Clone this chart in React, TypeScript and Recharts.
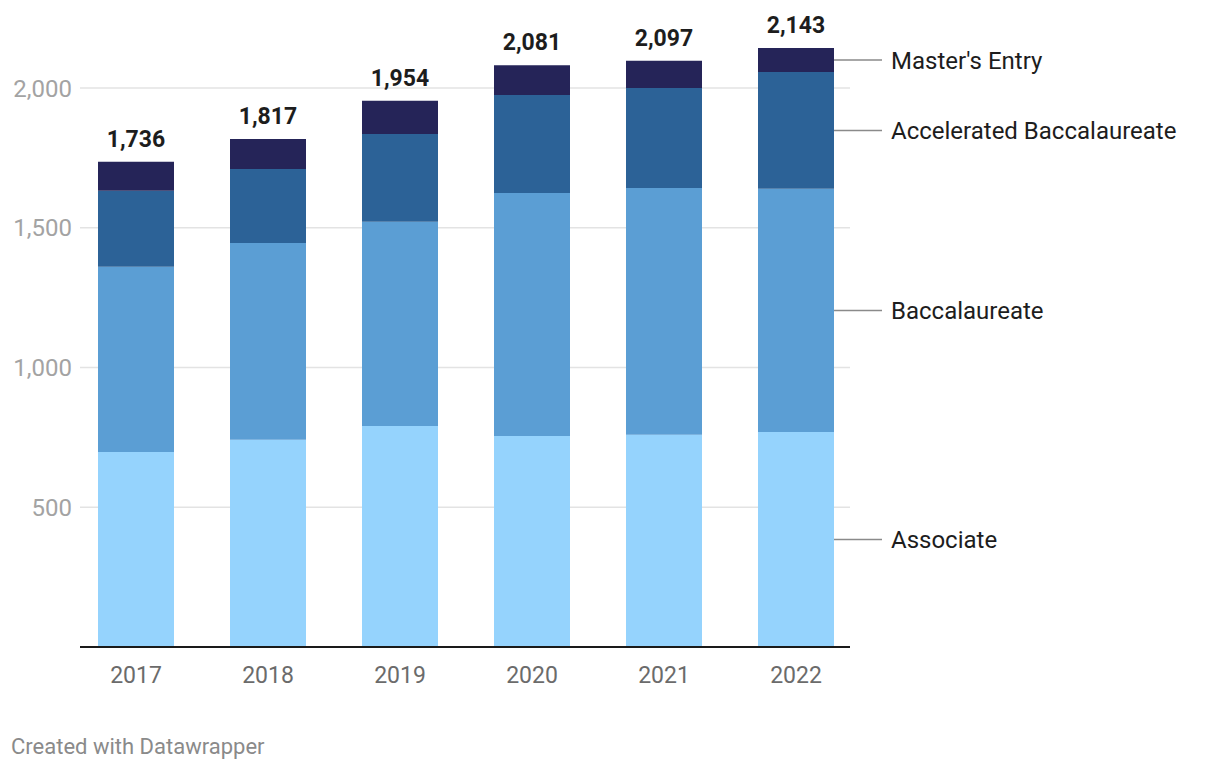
import React from 'react';
import { BarChart, Bar, XAxis, YAxis, CartesianGrid, LabelList, ReferenceLine } from 'recharts';

const years = ['2017', '2018', '2019', '2020', '2021', '2022'];
const associate = [698, 741, 791, 755, 759, 769];
const baccalaureate = [662, 704, 730, 869, 883, 870];
const accelerated = [272, 265, 314, 351, 358, 418];
const mastersEntry = [104, 107, 119, 106, 97, 86];
const totals = [1736, 1817, 1954, 2081, 2097, 2143];
const yTicks = [0, 500, 1000, 1500, 2000];

const seriesNames = {
  associate: 'Associate',
  baccalaureate: 'Baccalaureate',
  accelerated: 'Accelerated Baccalaureate',
  mastersEntry: "Master's Entry",
};

const colors = {
  associate: '#95d3fd',
  baccalaureate: '#5b9ed4',
  accelerated: '#2c6297',
  mastersEntry: '#252458',
};

const data = years.map((y, i) => ({
  year: y,
  associate: associate[i],
  baccalaureate: baccalaureate[i],
  accelerated: accelerated[i],
  mastersEntry: mastersEntry[i],
  total: totals[i],
}));

const FONT = 'Roboto, sans-serif';
const fmt = (v: number) => v.toLocaleString('en-US');
const LAST = years.length - 1;

const makeSeriesLabel = (name: string) => (props: any) => {
  const { x, y, width, height, index } = props;
  if (index !== LAST) return null;
  const x0 = Number(x) + Number(width);
  const ym = Number(y) + Number(height) / 2;
  return (
    <g>
      <line x1={x0} x2={x0 + 48} y1={ym} y2={ym} stroke="#8a8a8a" strokeWidth={1.5} />
      <text x={x0 + 57} y={ym} dy="0.36em" fontFamily={FONT} fontSize={24} fill="#1d1d1d">
        {name}
      </text>
    </g>
  );
};

const TotalLabel = (props: any) => {
  const { x, y, width, value } = props;
  return (
    <text
      x={Number(x) + Number(width) / 2}
      y={Number(y) - 15}
      textAnchor="middle"
      fontFamily={FONT}
      fontWeight={700}
      fontSize={23}
      fill="#1d1d1d"
    >
      {fmt(Number(value))}
    </text>
  );
};

const YTick = (props: any) => {
  const { x, y, payload } = props;
  if (payload.value === 0) return null;
  return (
    <text x={Number(x) + 2} y={y} dy="0.36em" textAnchor="end" fontFamily={FONT} fontSize={24} fill="#a3a3a3">
      {fmt(payload.value)}
    </text>
  );
};

const GridLine = (props: any) => {
  const { x1, x2, y1, index } = props;
  if (Math.abs(y1 - 647) < 2 || y1 < 50) return <g key={`g${index}`} />;
  return <line key={`g${index}`} x1={x1 + 10} x2={x2 - 12} y1={y1} y2={y1} stroke="#e3e3e3" strokeWidth={1.5} />;
};

const BaseLine = (props: any) => {
  const { x1, x2, y1 } = props;
  return <line x1={x1 + 10} x2={x2 - 12} y1={y1} y2={y1} stroke="#1a1a1a" strokeWidth={2} />;
};

export default function App() {
  return (
    <div style={{ position: 'absolute', left: 0, top: 0, width: 1220, height: 770, background: '#fff' }}>
      <BarChart
        width={1220}
        height={770}
        data={data}
        margin={{ top: 32, right: 358, bottom: 83, left: 0 }}
        barSize={76}
      >
        <CartesianGrid vertical={false} horizontal={GridLine as any} />
        <XAxis
          dataKey="year"
          axisLine={false}
          tickLine={false}
          tickSize={0}
          tickMargin={20}
          height={40}
          tick={{ fontFamily: FONT, fontSize: 23, fill: '#6b6b6b' }}
        />
        <YAxis
          width={70}
          domain={[0, 2200]}
          ticks={yTicks}
          axisLine={false}
          tickLine={false}
          tickSize={0}
          tickMargin={0}
          tick={YTick as any}
        />
        <Bar dataKey="associate" stackId="a" fill={colors.associate} isAnimationActive={false}>
          <LabelList dataKey="associate" content={makeSeriesLabel(seriesNames.associate)} />
        </Bar>
        <Bar dataKey="baccalaureate" stackId="a" fill={colors.baccalaureate} isAnimationActive={false}>
          <LabelList dataKey="baccalaureate" content={makeSeriesLabel(seriesNames.baccalaureate)} />
        </Bar>
        <Bar dataKey="accelerated" stackId="a" fill={colors.accelerated} isAnimationActive={false}>
          <LabelList dataKey="accelerated" content={makeSeriesLabel(seriesNames.accelerated)} />
        </Bar>
        <Bar dataKey="mastersEntry" stackId="a" fill={colors.mastersEntry} isAnimationActive={false}>
          <LabelList dataKey="mastersEntry" content={makeSeriesLabel(seriesNames.mastersEntry)} />
          <LabelList dataKey="total" content={TotalLabel} />
        </Bar>
        <ReferenceLine y={0} shape={BaseLine as any} ifOverflow="visible" />
      </BarChart>
      <svg style={{ position: 'absolute', left: 0, top: 720 }} width={400} height={50}>
        <text x={11} y={34} fontFamily={FONT} fontSize={22} fill="#8a8a8a">
          Created with Datawrapper
        </text>
      </svg>
    </div>
  );
}
